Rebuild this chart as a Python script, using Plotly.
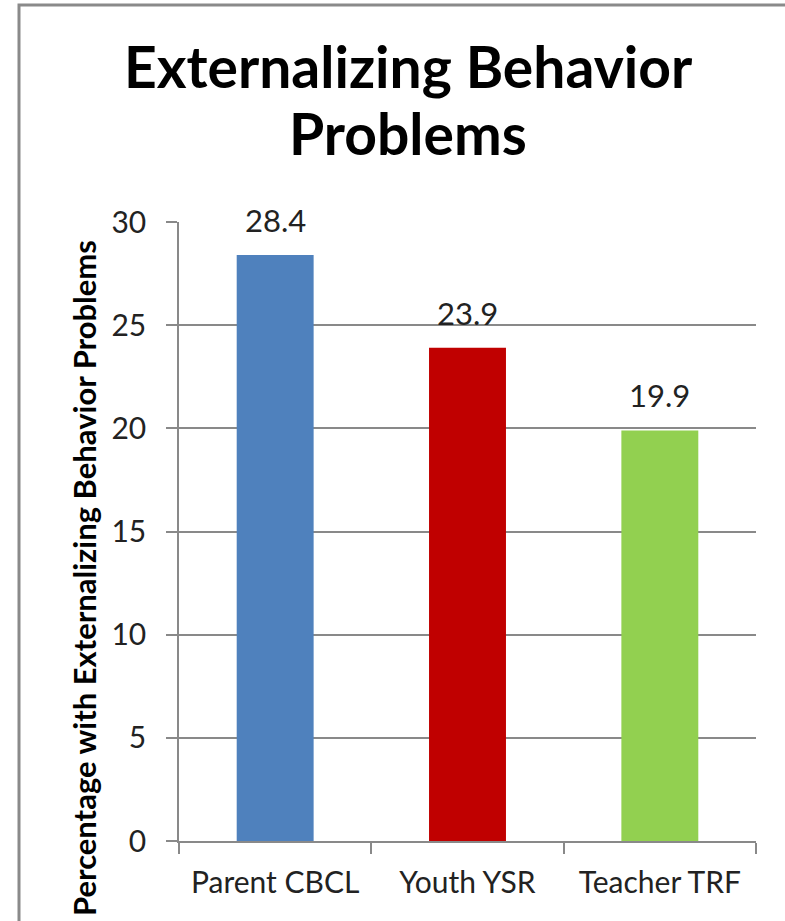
import plotly.graph_objects as go

# Chart data
categories = ["Parent CBCL", "Youth YSR", "Teacher TRF"]
values = [28.4, 23.9, 19.9]
bar_colors = ["#4F81BD", "#C00000", "#92D050"]
y_ticks = [0, 5, 10, 15, 20, 25, 30]
title_lines = ["Externalizing Behavior", "Problems"]
y_title = "Percentage with Externalizing Behavior Problems"

FONT = "Lato, Calibri, Arial, sans-serif"
GRID = "#898989"
TEXT = "#222222"

# Pixel geometry of the plotting area
L, R, T, B = 179, 756, 222, 841


def px_x(p):
    return (p - L) / (R - L)


def px_y(p):
    return (B - p) / (B - T)


fig = go.Figure()
fig.add_trace(go.Bar(
    x=categories,
    y=values,
    marker=dict(color=bar_colors, line=dict(width=0)),
    width=0.4,
    hoverinfo="x+y",
))

# Value labels above each bar
for cat, val in zip(categories, values):
    fig.add_annotation(
        x=cat, y=val, xref="x", yref="y",
        text=f"{val:.1f}", showarrow=False,
        yanchor="middle", yshift=35,
        font=dict(family=FONT, size=31, color=TEXT),
    )

# Bold title, one annotation per line
for line, cy in zip(title_lines, [66, 133]):
    fig.add_annotation(
        x=px_x(408), y=px_y(cy), xref="paper", yref="paper",
        text=line, showarrow=False,
        xanchor="center", yanchor="middle",
        font=dict(family=FONT, size=57, color="#000000", weight="bold"),
    )

# Rotated y-axis title
fig.add_annotation(
    x=px_x(84), y=px_y(578), xref="paper", yref="paper",
    text=y_title, showarrow=False,
    textangle=-90, xanchor="center", yanchor="middle",
    font=dict(family=FONT, size=31, color="#000000", weight="bold"),
)

# Outer chart frame
fig.add_shape(
    type="rect", xref="paper", yref="paper",
    x0=px_x(19), x1=px_x(800),
    y0=px_y(940), y1=px_y(5),
    line=dict(color="#8a8a8a", width=3), fillcolor="rgba(0,0,0,0)",
    layer="below",
)

fig.update_layout(
    width=785, height=921,
    margin=dict(l=L, r=785 - R, t=T, b=921 - B),
    paper_bgcolor="white", plot_bgcolor="white",
    showlegend=False,
    font=dict(family=FONT, color=TEXT),
    xaxis=dict(
        type="category",
        tickson="boundaries",
        ticks="outside", ticklen=11, tickcolor=GRID, tickwidth=1.5,
        showline=True, linecolor=GRID, linewidth=1.5,
        showgrid=False,
        tickfont=dict(family=FONT, size=30, color=TEXT),
        ticklabelstandoff=14,
    ),
    yaxis=dict(
        range=[0, 30],
        tickvals=y_ticks,
        ticks="outside", ticklen=11, tickcolor=GRID, tickwidth=1.5,
        showline=True, linecolor=GRID, linewidth=1.5,
        showgrid=True, gridcolor=GRID, gridwidth=1.5,
        zeroline=False,
        tickfont=dict(family=FONT, size=30, color=TEXT),
        ticklabelstandoff=14,
    ),
)

fig.write_html("out.html")
